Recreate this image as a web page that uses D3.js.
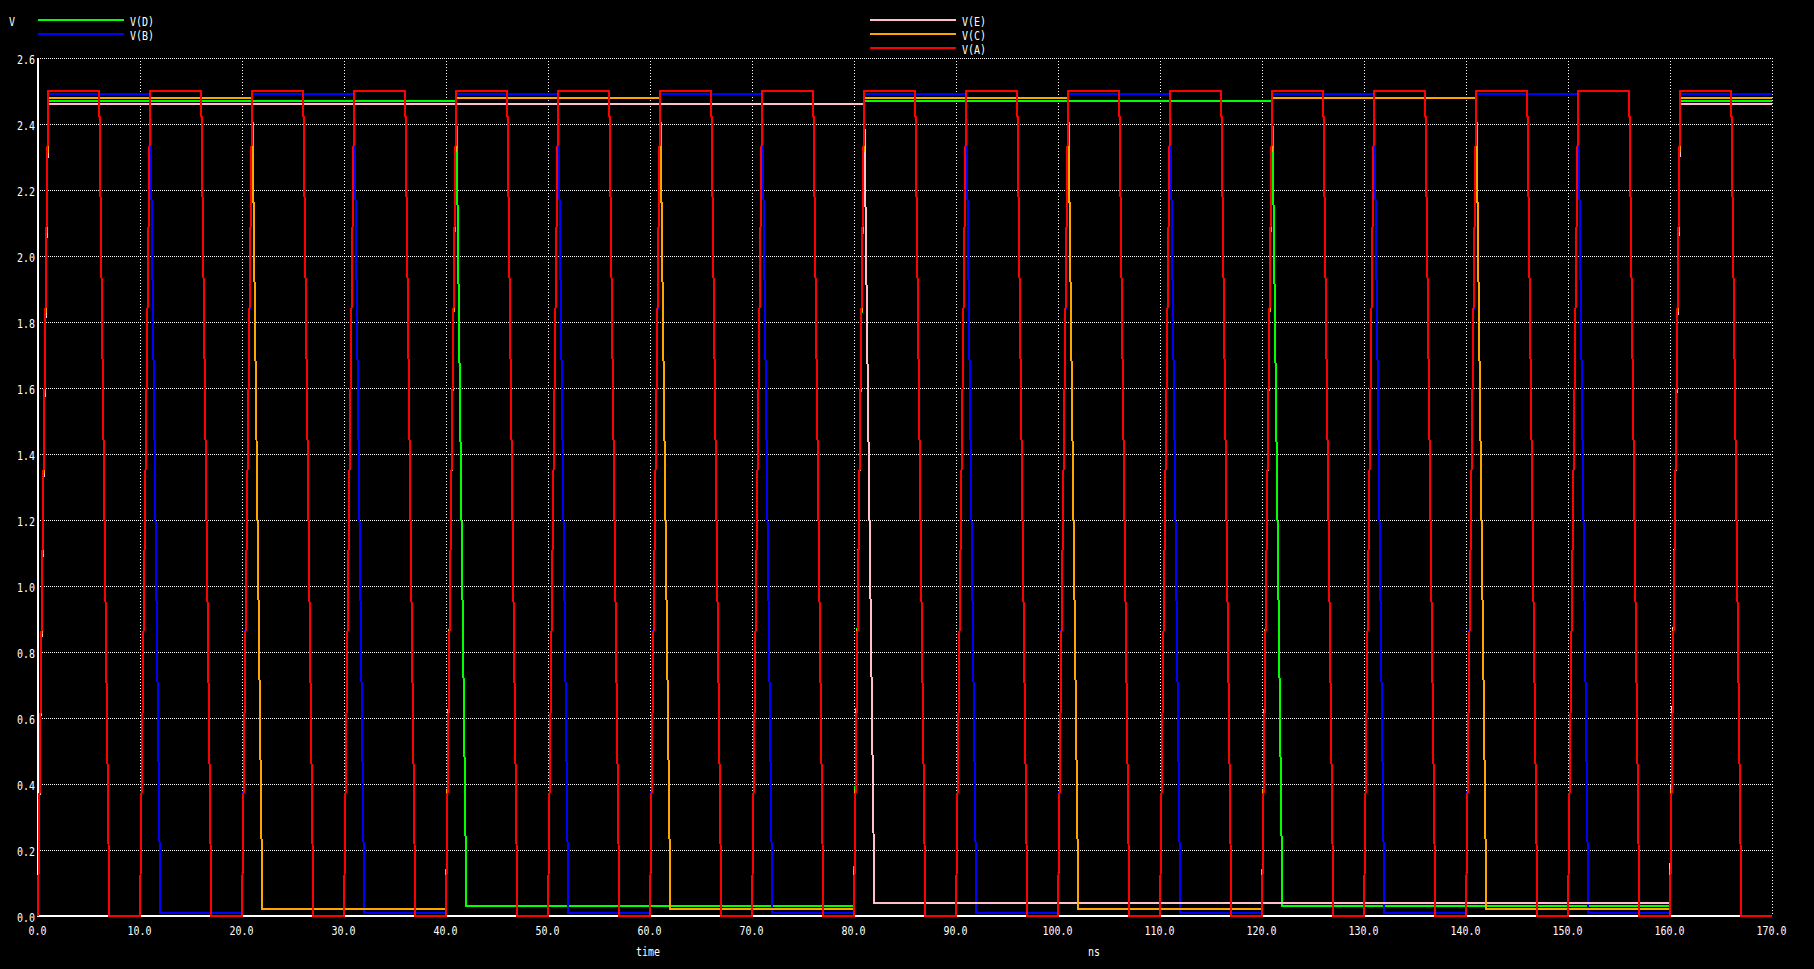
<!DOCTYPE html>
<html>
<head>
<meta charset="utf-8">
<script src="https://cdn.jsdelivr.net/npm/d3@7"></script>
<style>
  html, body { margin: 0; padding: 0; background: #000; }
  svg { display: block; }
  text { font-family: "DejaVu Sans Mono", "Liberation Mono", monospace; font-size: 10px; fill: #fff; }
</style>
</head>
<body>
<svg id="chart" width="1814" height="969"></svg>
<script>
// ---- data (time in ns, voltage in V) ----
const seriesNames  = ["V(D)", "V(B)", "V(E)", "V(C)", "V(A)"];
const seriesColors = ["#00ff00", "#0000ff", "#ffc0cb", "#ffa500", "#ff0000"];

const vD = [[0,0],[1,2.47],[41,2.47],[42,0.03],[80,0.03],[81,2.47],[121,2.47],[122,0.03],[160,0.03],[161,2.47],[170,2.47]];

const vB = [[0,0],[1,2.49],[11,2.49],[12,0.01],[20,0.01],[21,2.49],[31,2.49],[32,0.01],[40,0.01],[41,2.49],
            [51,2.49],[52,0.01],[60,0.01],[61,2.49],[71,2.49],[72,0.01],[80,0.01],[81,2.49],[91,2.49],[92,0.01],
            [100,0.01],[101,2.49],[111,2.49],[112,0.01],[120,0.01],[121,2.49],[131,2.49],[132,0.01],[140,0.01],[141,2.49],
            [151,2.49],[152,0.01],[160,0.01],[161,2.49],[170,2.49]];

const vE = [[0,0],[1,2.46],[81,2.46],[82,0.04],[160,0.04],[161,2.46],[170,2.46]];

const vC = [[0,0],[1,2.48],[21,2.48],[22,0.02],[40,0.02],[41,2.48],[61,2.48],[62,0.02],[80,0.02],[81,2.48],
            [101,2.48],[102,0.02],[120,0.02],[121,2.48],[141,2.48],[142,0.02],[160,0.02],[161,2.48],[170,2.48]];

const vA = [[0,0],[1,2.5],[6,2.5],[7,0],[10,0],[11,2.5],[16,2.5],[17,0],[20,0],[21,2.5],[26,2.5],[27,0],
            [30,0],[31,2.5],[36,2.5],[37,0],[40,0],[41,2.5],[46,2.5],[47,0],[50,0],[51,2.5],[56,2.5],[57,0],
            [60,0],[61,2.5],[66,2.5],[67,0],[70,0],[71,2.5],[76,2.5],[77,0],[80,0],[81,2.5],[86,2.5],[87,0],
            [90,0],[91,2.5],[96,2.5],[97,0],[100,0],[101,2.5],[106,2.5],[107,0],[110,0],[111,2.5],[116,2.5],[117,0],
            [120,0],[121,2.5],[126,2.5],[127,0],[130,0],[131,2.5],[136,2.5],[137,0],[140,0],[141,2.5],[146,2.5],[147,0],
            [150,0],[151,2.5],[156,2.5],[157,0],[160,0],[161,2.5],[166,2.5],[167,0],[170,0]];

const seriesData = [vD, vB, vE, vC, vA];

const xTicks = [0,10,20,30,40,50,60,70,80,90,100,110,120,130,140,150,160,170];
const yTicks = [0,0.2,0.4,0.6,0.8,1.0,1.2,1.4,1.6,1.8,2.0,2.2,2.4,2.6];
const xTitle = "time";
const xUnit = "ns";
const yUnit = "V";

// ---- drawing ----
const svg = d3.select("#chart");
svg.append("rect").attr("width", 1814).attr("height", 969).attr("fill", "#000");

const x = d3.scaleLinear().domain([0, 170]).range([38, 1772]);
const y = d3.scaleLinear().domain([0, 2.6]).range([916, 58]);

const fmt = d => d.toFixed(1);
const SY = 1.3; // vertical stretch of the terminal-like font

// grid
const grid = svg.append("g").attr("shape-rendering", "crispEdges");
grid.selectAll("line.h").data(yTicks.filter(d => d > 0)).join("line")
  .attr("x1", x(0)).attr("x2", x(170))
  .attr("y1", d => Math.round(y(d)) + 0.5).attr("y2", d => Math.round(y(d)) + 0.5)
  .attr("stroke", "#fff").attr("stroke-width", 1).attr("stroke-dasharray", "1,1");
grid.selectAll("line.v").data(xTicks.filter(d => d > 0)).join("line")
  .attr("x1", d => Math.round(x(d)) + 0.5).attr("x2", d => Math.round(x(d)) + 0.5)
  .attr("y1", y(2.6)).attr("y2", y(0))
  .attr("stroke", "#fff").attr("stroke-width", 1).attr("stroke-dasharray", "1,2");

// axis lines
svg.append("line").attr("x1", x(0)).attr("x2", x(0)).attr("y1", y(2.6)).attr("y2", y(0) + 1)
  .attr("stroke", "#fff").attr("stroke-width", 2).attr("shape-rendering", "crispEdges");
svg.append("line").attr("x1", x(0) - 1).attr("x2", x(170)).attr("y1", y(0)).attr("y2", y(0))
  .attr("stroke", "#fff").attr("stroke-width", 2).attr("shape-rendering", "crispEdges");

// x axis labels
const gx = svg.append("g").attr("transform", `translate(-1, ${y(0) + 15})`)
  .call(d3.axisBottom(x).tickValues(xTicks).tickFormat(fmt).tickSize(0).tickPadding(0));
gx.select(".domain").remove();
gx.selectAll("text").attr("y", 0).attr("dy", null)
  .attr("dominant-baseline", "central").attr("transform", `scale(1, ${SY})`)
  .attr("font-family", null).attr("font-size", null).attr("fill", "#fff");

// y axis labels
const gy = svg.append("g").attr("transform", `translate(35, 1)`)
  .call(d3.axisLeft(y).tickValues(yTicks).tickFormat(fmt).tickSize(0).tickPadding(0));
gy.select(".domain").remove();
gy.selectAll(".tick").each(function() {
  const t = d3.select(this);
  const m = /translate\(([^,]+),([^)]+)\)/.exec(t.attr("transform"));
  const ty = +m[2];
  t.attr("transform", `translate(0, ${ty})`);
  t.select("text").attr("x", 0).attr("y", 0).attr("dy", null)
    .attr("dominant-baseline", "central").attr("transform", `scale(1, ${SY})`)
    .attr("font-family", null).attr("font-size", null).attr("fill", "#fff");
});

function label(txt, tx, ty, anchor) {
  svg.append("text").attr("transform", `translate(${tx}, ${ty}) scale(1, ${SY})`)
    .attr("dominant-baseline", "central").attr("text-anchor", anchor || "start").text(txt);
}
label(yUnit, 9, 22);
label(xTitle, 636, 952);
label(xUnit, 1088, 952);

// series
const line = d3.line().x(d => x(d[0])).y(d => y(d[1]));
const plot = svg.append("g");
seriesData.forEach((data, i) => {
  plot.append("path").datum(data).attr("d", line)
    .attr("fill", "none").attr("stroke", seriesColors[i]).attr("stroke-width", 2)
    .attr("stroke-linejoin", "miter").attr("shape-rendering", "crispEdges");
});

// legend
const legendPos = [[38, 20], [38, 34], [870, 20], [870, 34], [870, 48]];
seriesNames.forEach((name, i) => {
  const [lx, ly] = legendPos[i];
  svg.append("line").attr("x1", lx).attr("x2", lx + 86).attr("y1", ly).attr("y2", ly)
    .attr("stroke", seriesColors[i]).attr("stroke-width", 2).attr("shape-rendering", "crispEdges");
  label(name, lx + 92, ly + 2);
});
</script>
</body>
</html>
